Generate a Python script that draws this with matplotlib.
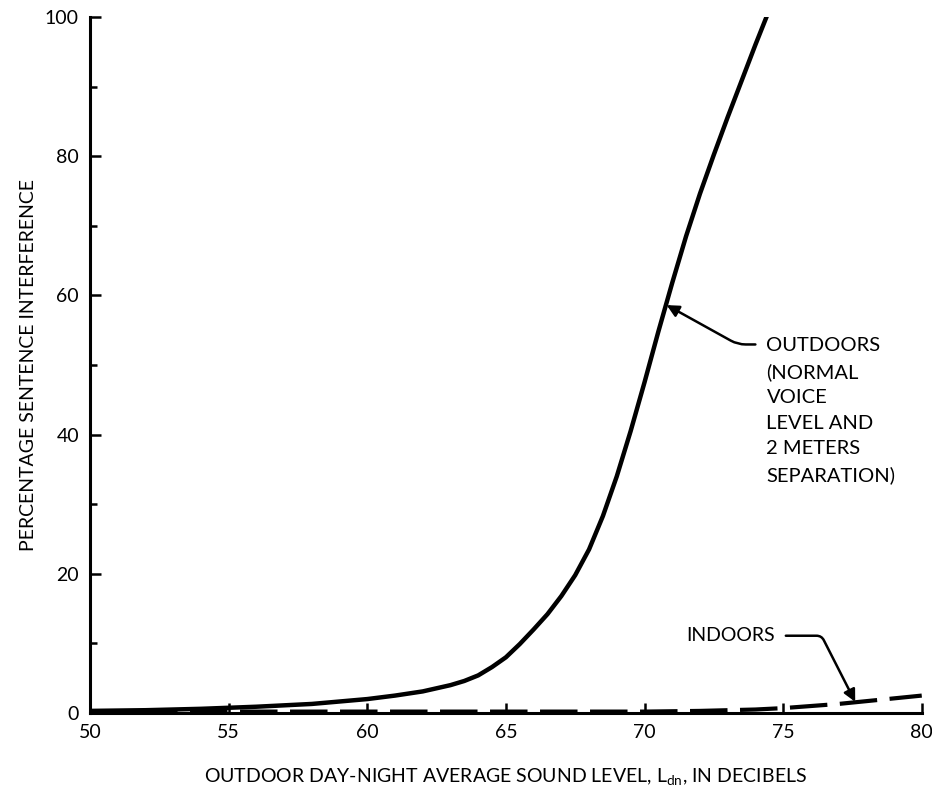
import matplotlib.pyplot as plt

# values
outdoor_x = [50, 52, 54, 56, 58, 60, 61, 62, 63, 63.5, 64, 64.5, 65, 65.5, 66, 66.5, 67, 67.5,
             68, 68.5, 69, 69.5, 70, 70.5, 71, 71.5, 72, 72.5, 73, 73.5, 74, 74.4]
outdoor_y = [0.3, 0.4, 0.6, 0.9, 1.3, 2.0, 2.5, 3.1, 4.0, 4.6, 5.4, 6.6, 8.0, 9.9, 12.0, 14.2, 16.8, 19.8,
             23.5, 28.3, 34.0, 40.5, 47.5, 54.8, 61.8, 68.5, 74.6, 80.2, 85.6, 90.8, 96.0, 100]

indoor_x = [50, 55, 60, 65, 70, 72, 74, 75, 76, 77, 78, 79, 80]
indoor_y = [0.2, 0.2, 0.2, 0.2, 0.2, 0.3, 0.5, 0.7, 1.0, 1.3, 1.7, 2.1, 2.5]

x_ticks = [50, 55, 60, 65, 70, 75, 80]
y_ticks = [0, 20, 40, 60, 80, 100]

plt.rcParams['font.family'] = ['Lato', 'DejaVu Sans']

fig = plt.figure(figsize=(9.32, 8.06), dpi=100)
ax = fig.add_axes([0.0966, 0.1154, 0.8924, 0.8636])

ax.plot(outdoor_x, outdoor_y, color='black', lw=3.2, solid_joinstyle='round')
ax.plot(indoor_x, indoor_y, color='black', lw=3.0, dashes=(9, 3))

ax.set_xlim(50, 80)
ax.set_ylim(0, 100)
ax.set_xticks(x_ticks)
ax.set_yticks(y_ticks)
ax.set_yticks([10, 30, 50, 70, 90], minor=True)
ax.tick_params(axis='both', direction='in', length=8, width=1.8, labelsize=14, pad=8)
ax.tick_params(axis='y', which='minor', direction='in', length=5, width=1.8)
ax.tick_params(axis='x', length=7)

for s in ['top', 'right']:
    ax.spines[s].set_visible(False)
for s in ['left', 'bottom']:
    ax.spines[s].set_linewidth(2.2)

ax.set_ylabel('PERCENTAGE SENTENCE INTERFERENCE', fontsize=14, labelpad=6)
ax.set_xlabel('OUTDOOR DAY-NIGHT AVERAGE SOUND LEVEL, $\\mathregular{L_{dn}}$, IN DECIBELS',
              fontsize=14, labelpad=18)

# annotations
ax.annotate('OUTDOORS\n(NORMAL\nVOICE\nLEVEL AND\n2 METERS\nSEPARATION)',
            xy=(70.8, 58.6), xytext=(74.4, 54.0), fontsize=14.5, va='top', ha='left',
            linespacing=1.6,
            arrowprops=dict(arrowstyle='-|>', color='black', lw=1.8, mutation_scale=18,
                            shrinkA=6, shrinkB=0,
                            connectionstyle='angle,angleA=0,angleB=151,rad=8',
                            relpos=(0.0, 0.95)))

ax.annotate('INDOORS', xy=(77.6, 1.6), xytext=(71.5, 11.1), fontsize=14, va='center', ha='left',
            arrowprops=dict(arrowstyle='-|>', color='black', lw=1.8, mutation_scale=18,
                            shrinkA=6, shrinkB=0,
                            connectionstyle='angle,angleA=0,angleB=117,rad=5',
                            relpos=(1.0, 0.5)))

plt.savefig('out.png', dpi=100)
